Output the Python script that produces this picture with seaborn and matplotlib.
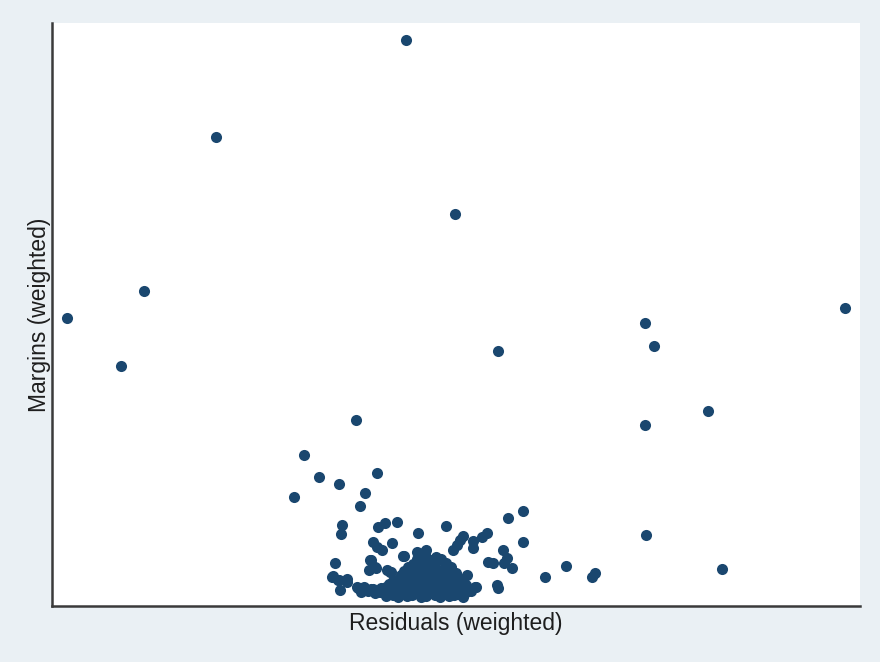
import matplotlib
matplotlib.use("Agg")
import matplotlib.pyplot as plt
import seaborn as sns
import pandas as pd

# residuals (x) and margins (y)
resid_outer = [406, 216, 455, 144, 67, 845, 645, 654, 498, 121, 356, 708, 645,
               304, 319, 377, 339, 294, 365, 360, 646, 722, 545, 566, 592, 595,
               523, 508, 523, 342, 341, 378, 385, 397, 418, 446, 463, 460, 457,
               453, 473, 473, 482, 487, 373, 377, 382, 392, 403, 417, 423, 426,
               370, 375, 369, 335, 387, 390, 332, 338, 347, 340, 357, 363, 373,
               503, 507, 504, 488, 493, 512, 497, 498, 475]
margin_outer = [566, 469, 392, 315, 288, 298, 283, 260, 255, 240, 186, 195, 181,
                151, 129, 133, 122, 109, 113, 100, 71, 37, 29, 40, 29, 33,
                95, 88, 64, 81, 72, 79, 83, 84, 73, 80, 70, 66, 61,
                56, 65, 58, 69, 73, 64, 59, 56, 63, 50, 54, 53, 56,
                46, 39, 36, 43, 36, 34, 29, 26, 24, 16, 19, 18, 17,
                56, 48, 43, 44, 43, 38, 21, 18, 19]

resid_core = [386, 393, 398, 407, 412, 421, 426, 435, 440, 449, 454, 463,
              361, 368, 375, 380, 389, 394, 403, 408, 417, 422, 431, 436, 445, 450, 459, 466, 471,
              358, 364, 371, 381, 386, 395, 400, 409, 414, 423, 428, 437, 442, 451, 456, 465, 476,
              389, 396, 401, 410, 415, 424, 429, 438, 443, 452, 457, 466,
              339, 347, 393, 398, 407, 412, 421, 426, 435, 440, 449, 454, 463,
              333, 401, 406, 415, 420, 429, 434, 443, 448, 457, 467,
              391, 404, 413, 418, 427, 432, 441, 446, 456,
              376, 408, 417, 422, 431, 436, 445, 451,
              413, 419, 429, 435, 446,
              371, 417, 426, 431, 441,
              404, 425, 436,
              396, 404, 411, 419, 427, 434, 442, 450, 458,
              402, 410, 418, 425, 433, 439, 447, 455]
margin_core = [10, 11, 9, 10, 11, 9, 10, 11, 9, 10, 11, 9,
               14, 15, 13, 14, 15, 13, 14, 15, 13, 14, 15, 13, 14, 15, 13, 14, 15,
               18, 19, 17, 18, 19, 17, 18, 19, 17, 18, 19, 17, 18, 19, 17, 18, 19,
               22, 23, 21, 22, 23, 21, 22, 23, 21, 22, 23, 21,
               26, 27, 25, 26, 27, 25, 26, 27, 25, 26, 27, 25, 26,
               30, 31, 29, 30, 31, 29, 30, 31, 29, 30, 31,
               34, 35, 33, 34, 35, 33, 34, 35, 33,
               38, 39, 37, 38, 39, 37, 38, 39,
               42, 43, 41, 42, 43,
               46, 47, 45, 46, 47,
               50, 51, 49,
               12, 16, 12, 16, 12, 16, 12, 16, 12,
               24, 28, 24, 28, 24, 28, 24, 28]

df = pd.DataFrame({"resid": resid_outer + resid_core,
                   "margin": margin_outer + margin_core})

sns.set_style("white")
plt.rcParams["font.family"] = ["Liberation Sans", "DejaVu Sans"]

fig = plt.figure(figsize=(8.8, 6.62), dpi=100, facecolor="#eaf0f4")
ax = fig.add_axes([0.059, 0.0846, 0.918, 0.880])
sns.scatterplot(data=df, x="resid", y="margin", ax=ax, color="#1a476f",
                s=64, linewidth=0, alpha=1)

ax.set_xlim(52, 860)
ax.set_ylim(0, 583)
ax.set_xticks([])
ax.set_yticks([])
ax.set_facecolor("white")
for side in ["top", "right"]:
    ax.spines[side].set_visible(False)
for side in ["left", "bottom"]:
    ax.spines[side].set_color("#3a3a3a")
    ax.spines[side].set_linewidth(1.8)
ax.set_xlabel("Residuals (weighted)", fontsize=16.5, color="#1e1e1e", labelpad=4)
ax.set_ylabel("Margins (weighted)", fontsize=16.5, color="#1e1e1e", labelpad=1)

fig.savefig("out.png", facecolor=fig.get_facecolor())
